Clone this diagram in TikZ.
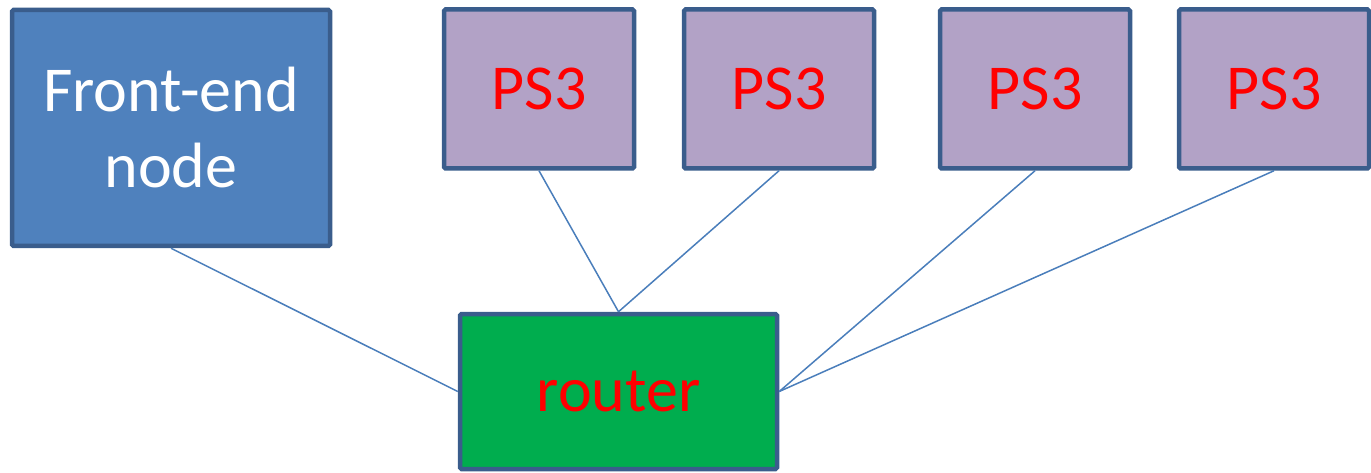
\documentclass[tikz,border=0pt]{standalone}
\usepackage{fontspec}
\setmainfont{Carlito}
\definecolor{feblue}{HTML}{4F81BD}
\definecolor{bordblue}{HTML}{3A5D8C}
\definecolor{pspurple}{HTML}{B2A2C6}
\definecolor{rgreen}{HTML}{00AD4E}
\definecolor{linkblue}{HTML}{4A7EBB}
\tikzset{
  box/.style={draw=bordblue, line width=4.5pt, rounded corners=1.5pt, inner sep=0pt, align=center,
    font=\fontsize{64}{76}\selectfont},
  psbox/.style={box, fill=pspurple, text=red, minimum width=190pt, minimum height=159pt},
  link/.style={draw=linkblue, line width=1.5pt}
}
\begin{document}
\begin{tikzpicture}[x=1pt,y=-1pt]
\useasboundingbox (0,0) rectangle (1371,473);
\node[box, fill=feblue, text=white, minimum width=318pt, minimum height=236pt] (fe) at (171,128) {Front-end\\node};
\node[psbox] (ps1) at (539,89) {PS3};
\node[psbox] (ps2) at (779,89) {PS3};
\node[psbox] (ps3) at (1035,89) {PS3};
\node[psbox] (ps4) at (1274,89) {PS3};
\node[box, fill=rgreen, text=red, minimum width=317pt, minimum height=155pt] (rt) at (618.5,391.5) {router};
\draw[link] (fe.south) -- (rt.west);
\draw[link] (ps1.south) -- (rt.north);
\draw[link] (ps2.south) -- (rt.north);
\draw[link] (ps3.south) -- (rt.east);
\draw[link] (ps4.south) -- (rt.east);
\end{tikzpicture}
\end{document}
